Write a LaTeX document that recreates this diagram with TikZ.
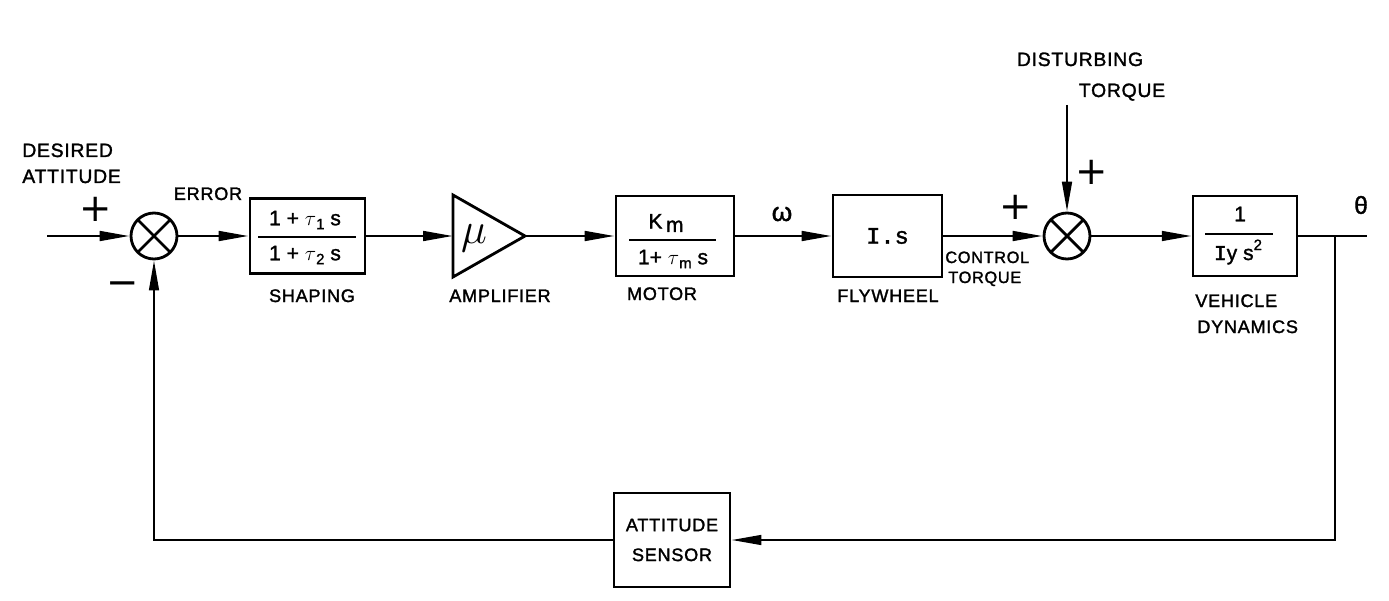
\documentclass[tikz,border=0pt]{standalone}
\usepackage{fontspec}
\usetikzlibrary{arrows.meta}
\newfontfamily\labfont[FakeBold=1.6,LetterSpace=4]{Liberation Sans}
\newfontfamily\fracfont[FakeBold=1.4]{Liberation Sans}
\newfontfamily\sgnfont{DejaVu Sans}
\newfontfamily\monofont[FakeBold=1.5]{Liberation Mono}
\newcommand\subt[1]{\raisebox{-0.35ex}{\fontsize{8.5}{8.5}\selectfont #1}}
\begin{document}
\begin{tikzpicture}[x=0.02cm,y=-0.02cm,
  line/.style={line width=1.5pt},
  arr/.style={line width=1.5pt,-{Triangle[length=17pt,width=5.5pt]}},
  blk/.style={draw,rectangle,line width=1.6pt,inner sep=0pt},
  sumj/.style={draw,circle,line width=1.6pt,minimum size=0.92cm,inner sep=0pt,
    path picture={\draw[line width=1.6pt]
      (path picture bounding box.north west) -- (path picture bounding box.south east)
      (path picture bounding box.north east) -- (path picture bounding box.south west);}},
  lab/.style={font=\labfont\fontsize{10.3}{12}\selectfont,inner sep=0pt},
  biglab/.style={font=\labfont\fontsize{11}{12}\selectfont,inner sep=0pt},
  smalllab/.style={font=\labfont\fontsize{9.3}{11}\selectfont,inner sep=0pt},
  sgn/.style={font=\sgnfont\fontsize{22}{22}\selectfont,inner sep=0pt},
  ftxt/.style={font=\fracfont\fontsize{12}{12}\selectfont,inner sep=0pt},
  frac/.style={line width=1.1pt}]
\useasboundingbox (0,0) rectangle (1389,601);

% blocks
\node[sumj] (sum1) at (154,236) {};
\node[blk,minimum width=2.3cm,minimum height=1.5cm] (shaping) at (307.5,236) {};
\draw[line width=1.6pt,line join=miter] (453,195) -- (525,236) -- (453,277) -- cycle;
\coordinate (ampin) at (453,236);
\coordinate (ampout) at (525,236);
\node[inner sep=0pt] (mu) at (474,238) {\fontsize{24}{24}\selectfont$\mu$};
\node[blk,minimum width=2.36cm,minimum height=1.6cm] (motor) at (675,236) {};
\node[blk,minimum width=2.18cm,minimum height=1.64cm,font=\monofont\fontsize{13.5}{13.5}\selectfont] (fly) at (887.5,236) {I.s};
\node[sumj] (sum2) at (1067,236) {};
\node[blk,minimum width=2.08cm,minimum height=1.6cm] (veh) at (1245,236) {};
\node[blk,minimum width=2.32cm,minimum height=1.88cm,align=center,
  font=\labfont\fontsize{10.3}{17}\selectfont] (sensor) at (672,540) {ATTITUDE\\SENSOR};

% fraction contents
\node[ftxt] (shn) at (305,220) {1 + $\tau$\subt{1} s};
\draw[frac] (258,237) -- (356,237);
\node[ftxt] (shd) at (305,255) {1 + $\tau$\subt{2} s};
\node[ftxt] (mon) at (666,223) {K\,\raisebox{-0.3ex}{m}};
\draw[frac] (629,240) -- (716,240);
\node[ftxt] (mod) at (673,259) {1+ $\tau$\subt{m} s};
\node[ftxt] (vn) at (1240,214) {1};
\draw[frac] (1205,234) -- (1273,234);
\node[ftxt] (vd) at (1238,252) {{\monofont I}y s\raisebox{0.9ex}{\fontsize{8.5}{8.5}\selectfont 2}};

% coordinates
\coordinate (in) at (47,236);
\coordinate (dist) at (1067,105);
\coordinate (out) at (1367,236);
\coordinate (br) at (1335,236);

% connectors
\draw[arr] (in) -- (sum1);
\draw[arr] (sum1) -- (shaping);
\draw[arr] (shaping) -- (ampin);
\draw[arr] (ampout) -- (motor);
\draw[arr] (motor) -- (fly);
\draw[arr] (fly) -- (sum2);
\draw[arr] (sum2) -- (veh);
\draw[arr] (dist) -- (sum2);
\draw[line] (veh) -- (out);
\draw[arr,line width=1.3pt] (br) |- (sensor);
\draw[arr,line width=1.3pt] (sensor) -| (sum1);

% signs
\node[sgn] (p1) at (96,209) {+};
\node[sgn] (m1) at (123,289) {−};
\node[sgn] (p2) at (1016,207) {+};
\node[sgn] (p3) at (1092,172) {+};

% labels
\node[biglab,anchor=base west] (des1) at (22,157) {DESIRED};
\node[biglab,anchor=base west] (des2) at (22,183) {ATTITUDE};
\node[lab,anchor=base] (err) at (208,200) {ERROR};
\node[lab,anchor=base] (lsh) at (312,302) {SHAPING};
\node[lab,anchor=base] (lamp) at (500,302) {AMPLIFIER};
\node[lab,anchor=base] (lmot) at (662,300) {MOTOR};
\node[lab,anchor=base] (lfly) at (888,302) {FLYWHEEL};
\node[smalllab,anchor=base west] (ct1) at (945,263) {CONTROL};
\node[smalllab,anchor=base west] (ct2) at (948,283) {TORQUE};
\node[biglab,anchor=base] (dt1) at (1080,66) {DISTURBING};
\node[biglab,anchor=base] (dt2) at (1122,97) {TORQUE};
\node[lab,anchor=base west] (vh1) at (1195,307) {VEHICLE};
\node[lab,anchor=base west] (vh2) at (1197,333) {DYNAMICS};
\node[inner sep=0pt,font=\fracfont\fontsize{15}{15}\selectfont] (om) at (782,214) {ω};
\node[inner sep=0pt,font=\fracfont\fontsize{14}{14}\selectfont] (th) at (1361,205) {θ};
\end{tikzpicture}
\end{document}
